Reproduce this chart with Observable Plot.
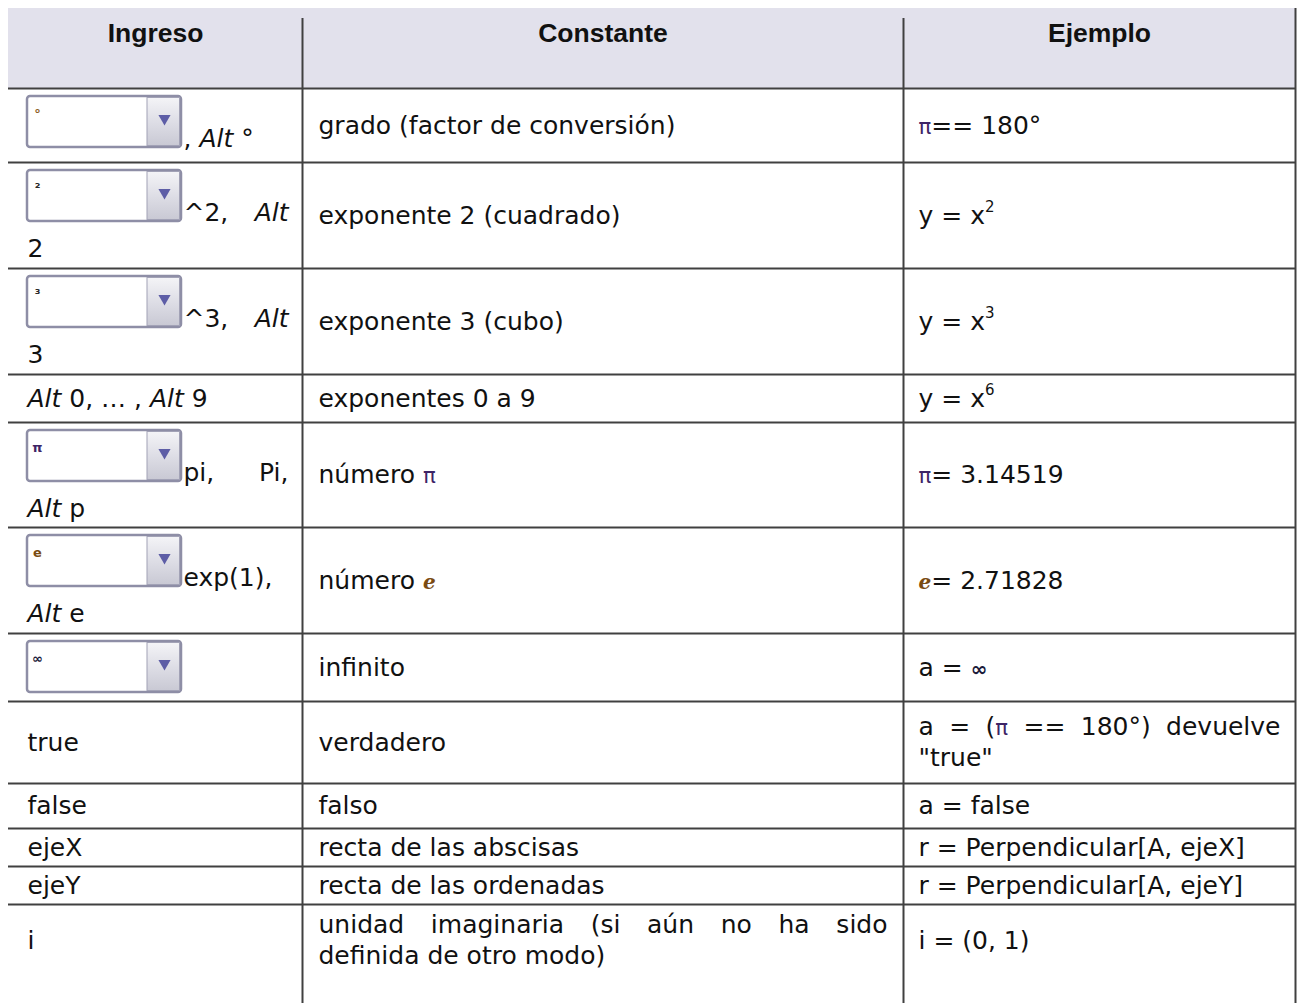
<!DOCTYPE html>
<html><head><meta charset="utf-8">
<script src="https://cdn.jsdelivr.net/npm/d3@7"></script>
<script src="https://cdn.jsdelivr.net/npm/@observablehq/plot@0.6"></script>
<style>
html,body{margin:0;padding:0;background:#fff;}
</style></head><body><div id="chart"></div>
<script>
// ---------------- data ----------------
const headers = ["Ingreso", "Constante", "Ejemplo"];
// symbol shown in the input-bar dropdown of each row (null = none)
const dropSymbols = ["°", "²", "³", null, "π", "e", "∞", null, null, null, null, null];
const ingreso = [
  [", <i>Alt</i> °"],
  ["^2, <i>Alt</i>", "2"],
  ["^3, <i>Alt</i>", "3"],
  ["<i>Alt</i> 0, … , <i>Alt</i> 9"],
  ["pi, Pi,", "<i>Alt</i> p"],
  ["exp(1),", "<i>Alt</i> e"],
  [],
  ["true"],
  ["false"],
  ["ejeX"],
  ["ejeY"],
  ["i"]
];
const constante = [
  ["grado (factor de conversión)"],
  ["exponente 2 (cuadrado)"],
  ["exponente 3 (cubo)"],
  ["exponentes 0 a 9"],
  ["número <c>π</c>"],
  ["número <e>e</e>"],
  ["infinito"],
  ["verdadero"],
  ["falso"],
  ["recta de las abscisas"],
  ["recta de las ordenadas"],
  ["unidad imaginaria (si aún no ha sido", "definida de otro modo)"]
];
const ejemplo = [
  ["<c>π</c>== 180°"],
  ["y = x<sup>2</sup>"],
  ["y = x<sup>3</sup>"],
  ["y = x<sup>6</sup>"],
  ["<c>π</c>= 3.14519"],
  ["<e>e</e>= 2.71828"],
  ["a = <b>∞</b>"],
  ["a = (<c>π</c> == 180°) devuelve", "\"true\""],
  ["a = false"],
  ["r = Perpendicular[A, ejeX]"],
  ["r = Perpendicular[A, ejeY]"],
  ["i = (0, 1)"]
];

// ---------------- layout ----------------
const W = 1300, H = 1003;
const colEdges = [8, 302, 903, 1295];
const rowEdges = [8, 88, 162, 268, 374, 422, 527, 633, 701, 783, 828, 866, 904, 976];
const FS = 25;
const bodyFont = "'DejaVu Sans', sans-serif";
const headFont = "'Liberation Sans', Arial, sans-serif";
const colText = [27, 318, 918];
const colRight = [288, 887, 1280];
const boxL = 27, boxR = 181, btnL = 147, boxH = 51;
const lineGap = 31;
const mid = FS * 0.32;
const symColor = {"π": "#3d2466", "e": "#7a4b12", "∞": "#1a1a3a", "°": "#8a5a20", "²": "#2a2a2a", "³": "#2a2a2a"};

const cells = [];
const boxes = [];
d3.range(12).forEach(r => {
  const top = rowEdges[r + 1], bot = rowEdges[r + 2], m = (top + bot) / 2;
  const sym = dropSymbols[r];
  const l1 = ingreso[r];
  if (sym != null) {
    const y1 = top + 8, y2 = y1 + boxH;
    boxes.push({sym, y1, y2});
    l1.forEach((t, i) => {
      if (i === 0) cells.push({x: boxR + 2, y: y2 - 1 - mid, t, target: l1.length > 1 ? colRight[0] : null});
      else cells.push({x: colText[0], y: y2 + 27 + (i - 1) * lineGap, t, target: null});
    });
  } else {
    l1.forEach((t, i) => cells.push({x: colText[0], y: m + (i - (l1.length - 1) / 2) * lineGap, t,
      target: (l1.length > 1 && i < l1.length - 1) ? colRight[0] : null}));
  }
  [constante[r], ejemplo[r]].forEach((lines, c) => {
    lines.forEach((t, i) => cells.push({x: colText[c + 1], y: m + (i - (lines.length - 1) / 2) * lineGap, t,
      target: (lines.length > 1 && i < lines.length - 1) ? colRight[c + 1] : null}));
  });
});

function parseRich(s) {
  const re = /<(i|sup|c|e|b)>(.*?)<\/\1>/g;
  const out = []; let last = 0, mm;
  while ((mm = re.exec(s))) {
    if (mm.index > last) out.push({t: s.slice(last, mm.index)});
    out.push({t: mm[2], tag: mm[1]});
    last = re.lastIndex;
  }
  if (last < s.length) out.push({t: s.slice(last)});
  return out;
}

function richRender(index, scales, values, dimensions, context, next) {
  const g = next(index, scales, values, dimensions, context);
  const texts = g.querySelectorAll("text");
  texts.forEach((el, k) => {
    const d = cells[index[k]];
    el.textContent = "";
    el.style.whiteSpace = "pre";
    if (d.target != null) el.setAttribute("data-target", d.target - d.x);
    let shifted = 0;
    parseRich(d.t).forEach(seg => {
      const ts = document.createElementNS("http://www.w3.org/2000/svg", "tspan");
      ts.textContent = seg.t;
      if (shifted) { ts.setAttribute("dy", shifted); shifted = 0; }
      if (seg.tag === "i") ts.setAttribute("font-style", "italic");
      if (seg.tag === "sup") {
        ts.setAttribute("font-size", FS * 0.6);
        ts.setAttribute("dy", -FS * 0.45);
        shifted = FS * 0.45;
      }
      if (seg.tag === "c") { ts.setAttribute("fill", symColor["π"]); ts.setAttribute("font-size", FS * 0.85); }
      if (seg.tag === "e") {
        ts.setAttribute("fill", symColor["e"]); ts.setAttribute("font-style", "italic");
        ts.setAttribute("font-weight", "bold"); ts.setAttribute("font-family", "'DejaVu Serif', serif");
        ts.setAttribute("font-size", FS * 0.8);
      }
      if (seg.tag === "b") { ts.setAttribute("fill", symColor["∞"]); ts.setAttribute("font-weight", "bold"); ts.setAttribute("font-size", FS * 0.8); }
      el.appendChild(ts);
    });
  });
  return g;
}

const headerCells = headers.map((h, i) => ({h, x: (colEdges[i] + colEdges[i + 1]) / 2}));
const lineColor = "#404040";

const plot = Plot.plot({
  width: W, height: H,
  margin: 0,
  x: {domain: [0, W], range: [0, W], axis: null},
  y: {domain: [0, H], range: [0, H], axis: null},
  style: {background: "#fff", overflow: "visible"},
  marks: [
    // header background
    Plot.rect([0], {x1: colEdges[0], x2: colEdges[3], y1: rowEdges[0], y2: rowEdges[1], fill: "#e2e1ec"}),
    // header text
    Plot.text(headerCells, {x: "x", y: 33, text: "h", fontFamily: headFont, fontWeight: "bold", fontSize: 26.5, fill: "#111"}),
    // row rules
    Plot.ruleY(rowEdges.slice(1, 13), {x1: colEdges[0], x2: colEdges[3] + 1, stroke: lineColor, strokeWidth: 2}),
    // column rules
    Plot.ruleX(colEdges.slice(1, 3), {y1: 18, y2: H, stroke: lineColor, strokeWidth: 2}),
    Plot.ruleX([colEdges[3]], {y1: rowEdges[0], y2: H, stroke: lineColor, strokeWidth: 2}),
    // dropdown widgets
    Plot.rect(boxes, {x1: boxL, x2: boxR, y1: "y1", y2: "y2", fill: "#fff", stroke: "#8e8ea6", strokeWidth: 2.5, rx: 3}),
    Plot.rect(boxes, {x1: btnL, x2: boxR - 1.5, y1: d => d.y1 + 1.5, y2: d => d.y2 - 1.5, fill: "url(#btnGrad)", stroke: "#a2a2b6", strokeWidth: 1}),
    Plot.dot(boxes, {x: (btnL + boxR) / 2, y: d => d.y1 + 22, symbol: "triangle", rotate: 180, r: 4.5, fill: "#5d5da6", stroke: "none"}),
    Plot.text(boxes, {x: boxL + 10, y: d => d.y1 + 17, text: "sym", fontSize: 13, fontWeight: "bold", fontFamily: bodyFont,
      fill: d => symColor[d.sym]}),
    // cell text
    Plot.text(cells, {x: "x", y: "y", text: "t", textAnchor: "start", fontFamily: bodyFont, fontSize: FS, fill: "#111",
      render: richRender})
  ]
});

// gradient for dropdown button
const defs = document.createElementNS("http://www.w3.org/2000/svg", "defs");
defs.innerHTML = `<linearGradient id="btnGrad" x1="0" y1="0" x2="0" y2="1">
  <stop offset="0" stop-color="#f4f4f7"/><stop offset="0.5" stop-color="#dedee6"/><stop offset="1" stop-color="#c9c9d4"/></linearGradient>`;
plot.insertBefore(defs, plot.firstChild);

document.getElementById("chart").appendChild(plot);

// justify wrapped lines
plot.querySelectorAll("text[data-target]").forEach(t => {
  const target = +t.getAttribute("data-target");
  const w = t.getComputedTextLength();
  const spaces = (t.textContent.match(/ /g) || []).length;
  if (spaces && target > w) t.style.wordSpacing = ((target - w) / spaces) + "px";
});
</script>
</body></html>
